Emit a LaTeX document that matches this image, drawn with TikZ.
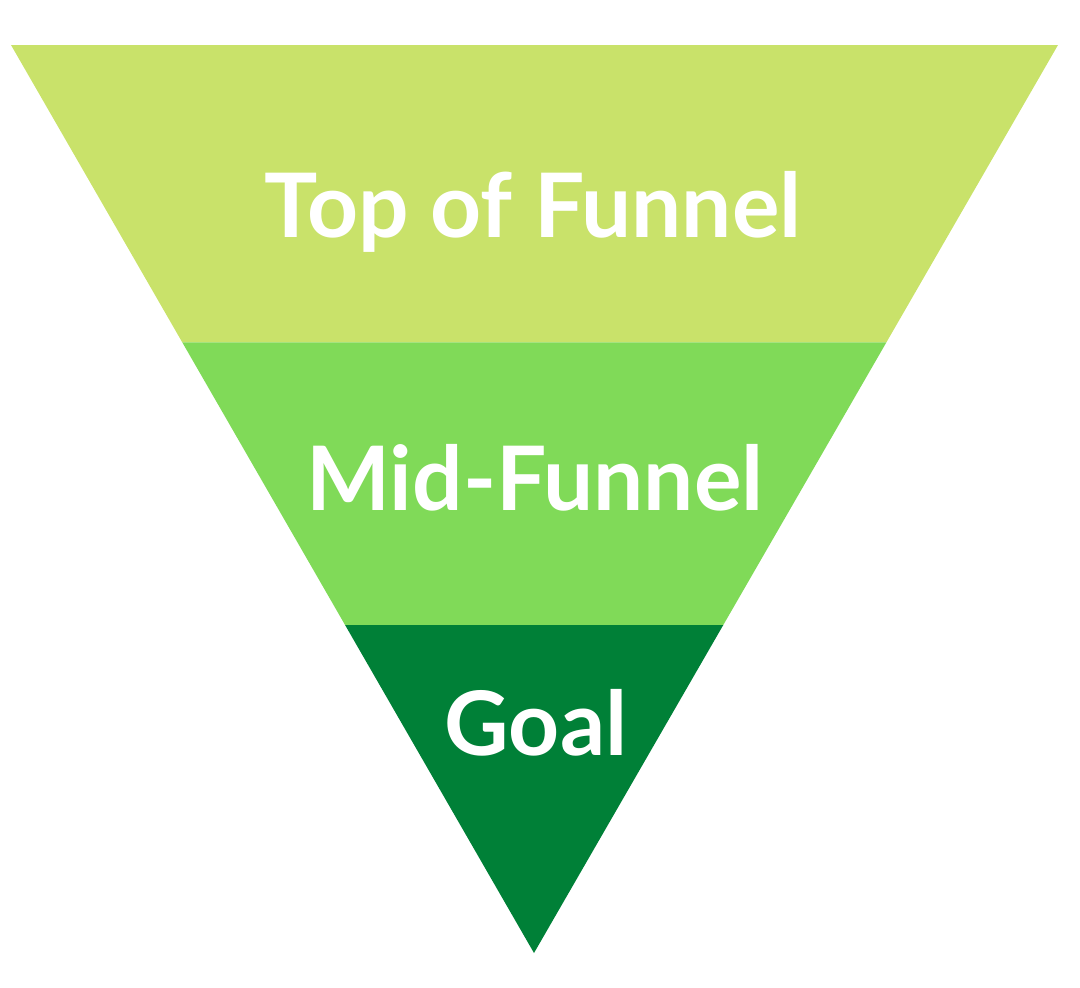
\documentclass[tikz,border=0pt]{standalone}
\usepackage{fontspec}
\setmainfont{Lato}
\usepackage{xcolor}
\definecolor{toplime}{RGB}{201,226,106}
\definecolor{midgreen}{RGB}{128,218,88}
\definecolor{goalgreen}{RGB}{0,128,55}
\usetikzlibrary{positioning, calc}

\begin{document}
\begin{tikzpicture}[
    x=1pt, y=-1pt,
    band/.style={draw=none},
    label/.style={
        text=white,
        font=\fontsize{89}{89}\selectfont\bfseries,
        anchor=base,
        inner sep=0pt
      }
  ]
  \useasboundingbox (0,0) rectangle (1080,988);
  % corners of the funnel
  \coordinate (tl) at (11,45);
  \coordinate (tr) at (1058,45);
  \coordinate (apex) at (534,953);
  \coordinate (ml) at ($(tl)!0.3274!(apex)$);
  \coordinate (mr) at ($(tr)!0.3274!(apex)$);
  \coordinate (gl) at ($(tl)!0.6388!(apex)$);
  \coordinate (gr) at ($(tr)!0.6388!(apex)$);
  % bands
  \fill[band, toplime] (tl) -- (tr) -- (mr) -- (ml) -- cycle;
  \fill[band, midgreen] (ml) -- (mr) -- (gr) -- (gl) -- cycle;
  \fill[band, goalgreen] (gl) -- (gr) -- (apex) -- cycle;
  % labels
  \node[label] (top) at (533,237) {Top of Funnel};
  \node[label] (mid) at (535,510) {Mid-Funnel};
  \node[label] (goal) at (536,755) {Goal};
\end{tikzpicture}
\end{document}
